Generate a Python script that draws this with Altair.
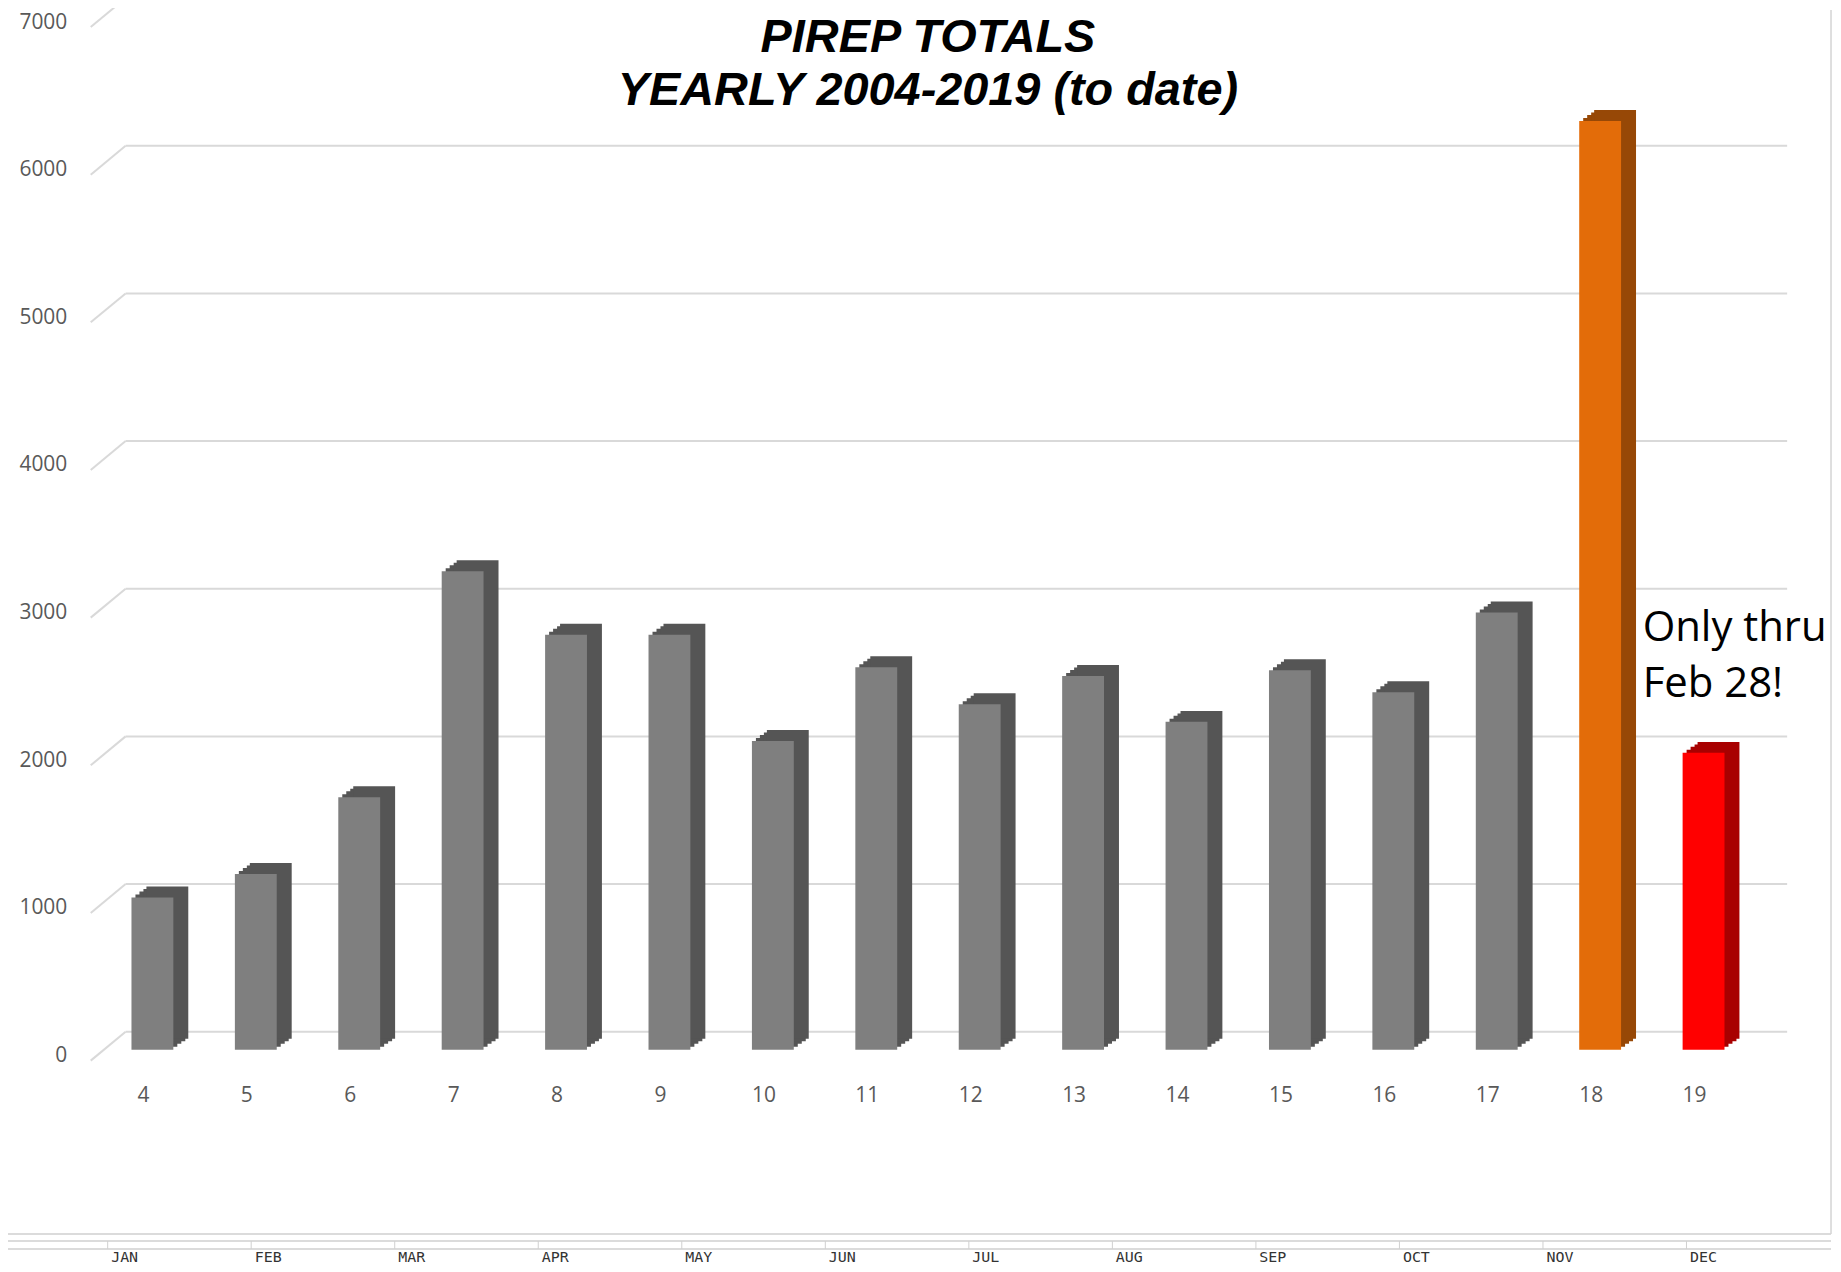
import altair as alt
import pandas as pd

# ---- data ----
years = ["4", "5", "6", "7", "8", "9", "10", "11", "12", "13", "14", "15", "16", "17", "18", "19"]
totals = [1030, 1190, 1710, 3240, 2810, 2810, 2090, 2590, 2340, 2530, 2220, 2570, 2420, 2960, 6290, 2010]
grid_values = [0, 1000, 2000, 3000, 4000, 5000, 6000, 7000]
months = ["JAN", "FEB", "MAR", "APR", "MAY", "JUN", "JUL", "AUG", "SEP", "OCT", "NOV", "DEC"]
title_lines = ["PIREP TOTALS", "YEARLY 2004-2019 (to date)"]
note_lines = ["Only thru", "Feb 28!"]

kinds = ["normal", "peak", "partial"]
front_colors = ["#7f7f7f", "#e36c09", "#ff0000"]
side_colors = ["#555555", "#974806", "#a80000"]

W, H = 1660, 1037
GRID = "#d9d9d9"
LABEL = "#595959"

df = pd.DataFrame({"year": years, "total": totals})
gdf = pd.DataFrame({"total": grid_values})
mdf = pd.DataFrame({"month": months})
one = pd.DataFrame({"t": [0]})

kind_expr = "datum.year == '18' ? 'peak' : (datum.year == '19' ? 'partial' : 'normal')"

y_axis = alt.Axis(values=grid_values, format="d", domain=False, ticks=False, tickSize=0,
                  grid=False, labelPadding=34, labelOffset=6, labelFont="Open Sans",
                  labelFontSize=21, labelColor=LABEL)
y_scale = alt.Scale(domain=[0, 7000], nice=False, zero=True)


def yenc():
    return alt.Y("total:Q", scale=y_scale, title=None, axis=y_axis)


x_scale = alt.Scale(paddingInner=0, paddingOuter=0)
x_axis = alt.Axis(domain=False, ticks=False, tickSize=0, grid=False, labelAngle=0,
                  labelPadding=46, labelBaseline="middle", labelOffset=-9,
                  labelFont="Open Sans", labelFontSize=21, labelColor=LABEL)

# back-wall gridlines
grid = alt.Chart(gdf).mark_rule(color=GRID, strokeWidth=2, yOffset=-18).encode(
    x=alt.value(25), x2=alt.value(1692), y=yenc()
)
# side-wall stubs
stubs = alt.Chart(gdf).mark_rule(color=GRID, strokeWidth=2, yOffset=11, y2Offset=-18).encode(
    x=alt.value(-10), x2=alt.value(25), y=yenc(), y2=alt.Y2("total:Q")
)

layers = [grid, stubs]

# 3D depth of the columns (stacked offset copies)
for dx, dy in [(4, -3), (8, -6), (12, -8.5), (15, -11)]:
    layers.append(
        alt.Chart(df).transform_calculate(kind=kind_expr).mark_bar(
            size=42, xOffset=dx, yOffset=dy, y2Offset=dy
        ).encode(
            x=alt.X("year:N", sort=years, scale=x_scale, axis=None, title=None),
            y=yenc(),
            color=alt.Color("kind:N", scale=alt.Scale(domain=kinds, range=side_colors), legend=None),
        )
    )

front = alt.Chart(df).transform_calculate(kind=kind_expr).mark_bar(size=42).encode(
    x=alt.X("year:N", sort=years, scale=x_scale, axis=x_axis, title=None),
    y=yenc(),
    color=alt.Color("kind:N", scale=alt.Scale(domain=kinds, range=front_colors), legend=None),
)
layers.append(front)

title = alt.Chart(one).mark_text(
    font="Liberation Sans", fontSize=47, fontWeight="bold", fontStyle="italic",
    align="center", baseline="alphabetic", lineHeight=53, color="black"
).encode(x=alt.value(W / 2), y=alt.value(36), text=alt.value(title_lines))
layers.append(title)

note = alt.Chart(one).mark_text(
    font="Open Sans", fontSize=42, align="left", baseline="alphabetic",
    lineHeight=56, color="black"
).encode(x=alt.value(1547), y=alt.value(627), text=alt.value(note_lines))
layers.append(note)

# window strip at the bottom (month header)
for yy in [1222, 1229, 1237]:
    layers.append(
        alt.Chart(one).mark_rule(color="#cfcfcf", strokeWidth=1.5).encode(
            x=alt.value(-101), x2=alt.value(1736), y=alt.value(yy)
        )
    )
layers.append(
    alt.Chart(one).mark_rule(color="#d4d4d4", strokeWidth=1.5).encode(
        x=alt.value(1736), y=alt.value(-6), y2=alt.value(1222)
    )
)
mx = alt.X("month:N", sort=months, scale=alt.Scale(type="point", range=[24, 1608], padding=0),
           axis=None, title=None)
layers.append(
    alt.Chart(mdf).mark_rule(color="#d0d0d0", strokeWidth=1, xOffset=-17).encode(
        x=mx, y=alt.value(1229), y2=alt.value(1237)
    )
)
layers.append(
    alt.Chart(mdf).mark_text(font="DejaVu Sans Mono", fontSize=15, color="#333333",
                             align="center", baseline="alphabetic").encode(
        x=mx, y=alt.value(1250), text="month:N"
    )
)

chart = alt.layer(*layers).resolve_scale(x="independent", color="independent").properties(
    width=W, height=H,
    padding={"left": 93, "top": 6, "right": 78, "bottom": 217},
    autosize=alt.AutoSizeParams(type="none"),
    background="white",
).configure_view(strokeWidth=0)

chart.save("out.html", embed_options={"renderer": "svg", "actions": False})
